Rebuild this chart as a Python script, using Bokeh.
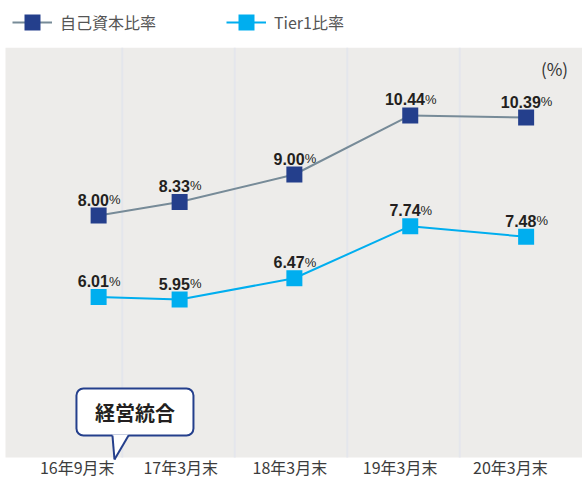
from bokeh.plotting import figure
from bokeh.models import Range1d, Legend, LegendItem, ColumnDataSource, BoxAnnotation
from bokeh.core.properties import value
from bokeh.embed import file_html
from bokeh.resources import INLINE

# ---- data ----
categories = ["16年9月末", "17年3月末", "18年3月末", "19年3月末", "20年3月末"]
capital_ratio = [8.00, 8.33, 9.00, 10.44, 10.39]
tier1_ratio = [6.01, 5.95, 6.47, 7.74, 7.48]
point_x = [0.29, 1.01, 2.03, 3.06, 4.09]      # where each period's point sits
label_x = [0.10, 1.02, 1.99, 2.97, 3.95]      # where each period's label sits
boundaries = [0.5, 1.5, 2.5, 3.5]             # separators between periods
series_names = ["自己資本比率", "Tier1比率"]
unit_label = "(%)"
callout_text = "経営統合"

NAVY = "#243f8c"
SLATE = "#778b98"
CYAN = "#00aeef"
TXT = "#231f20"
PANEL = "#edecea"

NUM_PX = 16
PCT_PX = 13

# panel extents (data units)
X_LO, X_HI = -0.5822, 4.5911
Y_LO, Y_HI = 1.561, 13.244
PANEL_LEFT, PANEL_BOTTOM, PANEL_TOP = -0.5378, 2.098, 12.09


def num_width(s):
    return sum(0.278 if c == "." else 0.556 for c in s) * NUM_PX


PCT_W = 0.889 * PCT_PX

p = figure(width=582, height=479,
           x_range=Range1d(X_LO, X_HI), y_range=Range1d(Y_LO, Y_HI),
           output_backend="svg", toolbar_location=None,
           x_axis_location=None, y_axis_location=None,
           min_border=0, min_border_left=0, min_border_right=0,
           min_border_top=0, min_border_bottom=0,
           background_fill_color="white", border_fill_color="white",
           outline_line_color=None)
p.grid.visible = False

p.add_layout(BoxAnnotation(left=PANEL_LEFT, bottom=PANEL_BOTTOM, top=PANEL_TOP,
                           fill_color=PANEL, fill_alpha=1, line_color=None,
                           level="underlay"))
p.segment(x0=boundaries, x1=boundaries, y0=[PANEL_BOTTOM] * 4, y1=[PANEL_TOP] * 4,
          line_color="#e4e6ec", line_width=2)

l1 = p.line(point_x, capital_ratio, line_color=SLATE, line_width=2)
s1 = p.scatter(point_x, capital_ratio, marker="square", size=16,
               fill_color=NAVY, line_color=None)
l2 = p.line(point_x, tier1_ratio, line_color=CYAN, line_width=2)
s2 = p.scatter(point_x, tier1_ratio, marker="square", size=16,
               fill_color=CYAN, line_color=None)

for vals in (capital_ratio, tier1_ratio):
    nums = [f"{v:.2f}" for v in vals]
    offs = []
    for n in nums:
        wn = num_width(n) + 1
        offs.append(-(wn + PCT_W) / 2 + wn)
    src = ColumnDataSource(dict(x=point_x, y=vals, num=nums,
                                pct=["%"] * len(vals), off=offs))
    p.text(x="x", y="y", text="num", source=src, x_offset="off", y_offset=-16,
           text_align="right", text_baseline="alphabetic",
           text_font=value("Liberation Sans"), text_font_style="bold",
           text_font_size=f"{NUM_PX}px", text_color=TXT)
    p.text(x="x", y="y", text="pct", source=src, x_offset="off", y_offset=-16,
           text_align="left", text_baseline="alphabetic",
           text_font=value("Liberation Sans"),
           text_font_size=f"{PCT_PX}px", text_color=TXT)

# unit label
p.text(x=[4.342], y=[11.585], text=[unit_label], text_align="center",
       text_baseline="middle", text_font=value("Noto Sans CJK JP"),
       text_font_size="17px", text_color="#333333")

# callout box
p.quad(left=[0.093], right=[1.133], top=[3.78], bottom=[2.634],
       fill_color="white", line_color=NAVY, line_width=2, border_radius=7)
p.patch([0.413, 0.556, 0.431], [2.66, 2.66, 2.049], fill_color="white",
        line_color=None)
p.multi_line([[0.413, 0.431], [0.556, 0.431]], [[2.634, 2.049], [2.634, 2.049]],
             line_color=NAVY, line_width=2)
p.text(x=[0.613], y=[3.2], text=[callout_text], text_align="center",
       text_baseline="middle", text_font=value("Noto Sans CJK JP"),
       text_font_style="bold", text_font_size="20px", text_color=TXT)

# category labels
p.text(x=label_x, y=[1.86] * len(label_x), text=categories,
       text_align="center", text_baseline="middle",
       text_font=value("Noto Sans CJK JP"), text_font_size="16px",
       text_color="#3c3c3c")

legend = Legend(items=[LegendItem(label=series_names[0], renderers=[l1, s1]),
                       LegendItem(label=series_names[1], renderers=[l2, s2])],
                orientation="horizontal", location=(12, 437),
                glyph_width=40, glyph_height=40, label_standoff=8, spacing=70,
                padding=0, margin=0, border_line_color=None,
                background_fill_alpha=0,
                label_text_font="Noto Sans CJK JP", label_text_font_size="16px",
                label_text_color="#555555")
p.add_layout(legend)

open("out.html", "w").write(file_html(p, INLINE))
